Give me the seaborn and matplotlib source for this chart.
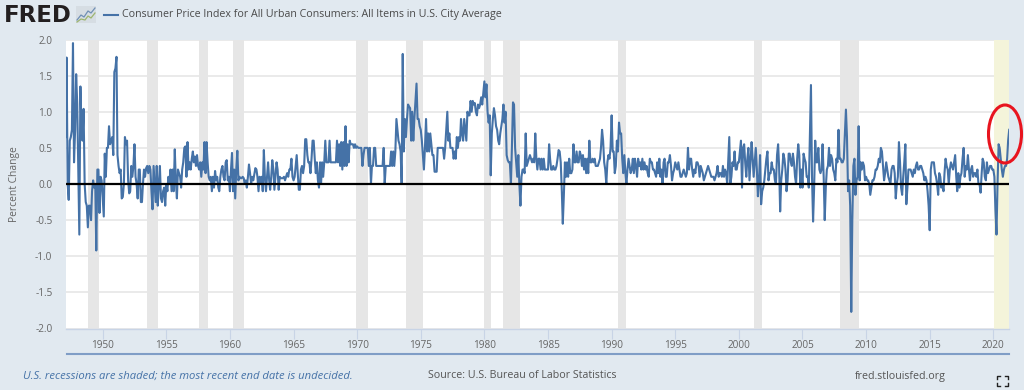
import pandas as pd
import numpy as np
import matplotlib
matplotlib.use("Agg")
import matplotlib.pyplot as plt
import seaborn as sns
from matplotlib.lines import Line2D
from matplotlib.patches import Ellipse, Rectangle

# monthly percent change, one row per year
cpi_1940s = [
    0.65, 1.75, 0.0, -0.22, 0.6, 0.65, 0.75, 1.95, 0.3, 0.75, 1.52,
    1.1, 0.2, -0.7, 1.35, 0.75, 0.6, 1.04, 0.0, -0.25, -0.3, -0.6, -0.3,
    -0.3, -0.5, -0.1, 0.05, -0.05, 0.0, -0.92, 0.2, 0.2, -0.4, 0.1, 0.05,
]
cpi_1950s = [
    -0.2, -0.45, 0.42, 0.1, 0.5, 0.5, 0.8, 0.55, 0.6, 0.65, 0.4, 1.55,
    1.6, 1.76, 0.4, 0.25, 0.15, 0.2, -0.2, -0.18, 0.0, 0.65, 0.55, 0.6,
    0.05, -0.13, -0.1, 0.25, 0.1, 0.25, 0.55, 0.1, 0.0, -0.2, 0.2, 0.2,
    -0.25, -0.25, 0.0, 0.2, 0.1, 0.22, 0.25, 0.15, 0.25, 0.2, -0.1, -0.35,
    0.25, 0.0, -0.25, 0.25, -0.3, 0.0, 0.25, -0.2, -0.25, -0.1, -0.05, -0.3,
    0.0, -0.1, 0.1, 0.0, 0.2, -0.1, 0.2, -0.1, 0.48, 0.05, -0.2, 0.2,
    0.15, 0.1, -0.05, 0.2, 0.3, 0.5, 0.52, 0.1, 0.58, 0.2, 0.3, 0.2,
    0.35, 0.45, 0.3, 0.38, 0.25, 0.4, 0.25, 0.2, 0.3, 0.1, 0.3, 0.2,
    0.58, 0.15, 0.58, 0.3, 0.1, 0.05, 0.1, -0.1, 0.1, -0.05, 0.18, 0.05,
    0.1, -0.05, -0.1, 0.1, 0.2, 0.25, 0.1, 0.05, 0.3, 0.33, 0.05, 0.1,
]
cpi_1960s = [
    -0.1, 0.2, 0.43, -0.1, 0.2, -0.2, 0.2, 0.46, 0.05, 0.1, 0.08, 0.08,
    0.1, 0.08, 0.0, 0.05, -0.05, 0.1, 0.27, 0.15, 0.0, 0.1, 0.05, 0.13,
    0.22, 0.2, 0.1, -0.1, 0.1, 0.0, 0.1, -0.1, 0.47, 0.1, -0.1, 0.1,
    0.3, 0.05, -0.08, 0.1, 0.33, 0.2, -0.08, 0.12, 0.3, 0.2, -0.08, 0.1,
    0.08, 0.08, 0.08, 0.1, 0.05, 0.1, 0.15, 0.1, 0.2, 0.2, 0.35, 0.1,
    0.05, 0.1, 0.25, 0.4, 0.15, -0.08, -0.08, 0.2, 0.25, 0.15, 0.25, 0.62,
    0.62, 0.4, 0.3, 0.3, 0.15, 0.35, 0.6, 0.6, 0.35, 0.15, 0.3, 0.05,
    -0.05, 0.3, 0.0, 0.3, 0.1, 0.3, 0.6, 0.3, 0.3, 0.3, 0.6, 0.3,
    0.3, 0.3, 0.3, 0.3, 0.3, 0.6, 0.3, 0.55, 0.25, 0.58, 0.2, 0.58,
    0.25, 0.8, 0.25, 0.55, 0.3, 0.6, 0.55, 0.55, 0.55, 0.5, 0.55, 0.5,
]
cpi_1970s = [
    0.52, 0.5, 0.5, 0.5, 0.5, 0.25, 0.4, 0.5, 0.5, 0.5, 0.5, 0.25,
    0.5, 0.0, 0.25, 0.25, 0.5, 0.5, 0.25, 0.25, 0.25, 0.25, 0.25, 0.25,
    0.25, 0.5, 0.0, 0.25, 0.25, 0.25, 0.25, 0.25, 0.45, 0.25, 0.45, 0.25,
    0.45, 0.9, 0.75, 0.6, 0.55, 0.45, 0.0, 1.8, 0.45, 0.9, 0.65, 0.9,
    1.1, 1.07, 1.05, 0.6, 1.0, 0.6, 0.9, 1.15, 1.39, 0.9, 0.9, 0.8,
    0.75, 0.6, 0.4, 0.2, 0.5, 0.9, 0.45, 0.7, 0.45, 0.7, 0.55, 0.4,
    0.4, 0.17, 0.17, 0.17, 0.5, 0.5, 0.5, 0.5, 0.5, 0.5, 0.35, 0.5,
    0.75, 1.0, 0.6, 0.7, 0.5, 0.5, 0.5, 0.35, 0.45, 0.35, 0.65, 0.5,
    0.65, 0.6, 0.9, 0.7, 0.6, 0.9, 0.75, 0.6, 1.0, 0.95, 0.95, 1.15,
    1.0, 1.15, 1.1, 1.12, 1.0, 0.95, 1.1, 1.05, 1.1, 1.2, 1.1, 1.25,
]
cpi_1980s = [
    1.42, 1.2, 1.38, 1.0, 0.85, 0.95, 0.12, 0.7, 0.9, 1.05, 0.95, 0.8,
    0.75, 0.6, 0.55, 0.7, 0.8, 0.9, 1.1, 0.85, 1.0, 0.4, 0.33, 0.3,
    0.3, 0.0, 0.5, 1.13, 1.1, 0.5, 0.3, 0.1, 0.4, 0.0, -0.3, 0.1,
    0.2, 0.2, 0.15, 0.7, 0.25, 0.3, 0.35, 0.4, 0.35, 0.3, 0.35, 0.3,
    0.7, 0.35, 0.2, 0.35, 0.35, 0.2, 0.35, 0.2, 0.35, 0.2, 0.2, 0.2,
    0.2, 0.55, 0.35, 0.2, 0.2, 0.25, 0.2, 0.2, 0.25, 0.35, 0.47, 0.45,
    0.3, -0.1, -0.55, -0.15, 0.3, 0.1, 0.3, 0.1, 0.35, 0.15, 0.15, 0.2,
    0.55, 0.3, 0.3, 0.45, 0.3, 0.3, 0.45, 0.4, 0.25, 0.4, 0.2, 0.35,
    0.15, 0.35, 0.15, 0.6, 0.3, 0.3, 0.35, 0.3, 0.35, 0.25, 0.25, 0.25,
    0.3, 0.35, 0.5, 0.75, 0.6, 0.3, 0.2, 0.0, 0.3, 0.4, 0.35, 0.5,
]
cpi_1990s = [
    0.95, 0.45, 0.45, 0.15, 0.25, 0.6, 0.45, 0.85, 0.7, 0.7, 0.35, 0.15,
    0.4, 0.15, 0.0, 0.2, 0.35, 0.25, 0.15, 0.2, 0.35, 0.15, 0.35, 0.25,
    0.1, 0.35, 0.25, 0.3, 0.2, 0.35, 0.2, 0.3, 0.2, 0.25, 0.15, 0.1,
    0.35, 0.3, 0.3, 0.2, 0.2, 0.15, 0.1, 0.3, 0.15, 0.35, 0.1, 0.2,
    0.0, 0.3, 0.35, 0.1, 0.1, 0.3, 0.3, 0.4, 0.25, 0.05, 0.15, 0.2,
    0.3, 0.25, 0.2, 0.3, 0.2, 0.1, 0.1, 0.15, 0.2, 0.15, 0.1, 0.15,
    0.5, 0.2, 0.35, 0.35, 0.2, 0.1, 0.2, 0.15, 0.3, 0.3, 0.25, 0.1,
    0.25, 0.2, 0.15, 0.05, 0.1, 0.15, 0.2, 0.25, 0.2, 0.15, 0.1, 0.1,
    0.1, 0.05, 0.1, 0.15, 0.25, 0.1, 0.15, 0.15, 0.1, 0.25, 0.1, 0.2,
    0.15, 0.0, 0.3, 0.65, 0.0, 0.1, 0.3, 0.25, 0.45, 0.2, 0.2, 0.3,
]
cpi_2000s = [
    0.3, 0.45, 0.6, -0.05, 0.5, 0.55, 0.3, 0.1, 0.35, 0.5, 0.05, 0.3,
    0.58, 0.35, 0.1, 0.3, 0.5, 0.2, -0.17, 0.05, 0.4, -0.28, -0.1, -0.05,
    0.05, 0.2, 0.35, 0.45, 0.05, 0.15, 0.15, 0.3, 0.2, 0.2, 0.05, 0.0,
    0.4, 0.55, 0.25, -0.38, 0.05, 0.2, 0.42, 0.35, 0.2, -0.1, 0.05, 0.42,
    0.42, 0.3, 0.25, 0.42, 0.3, 0.1, 0.0, 0.35, 0.55, 0.4, -0.05, 0.2,
    -0.05, 0.42, 0.35, 0.3, 0.1, 0.1, -0.05, 0.65, 1.37, 0.1, -0.52, -0.05,
    0.6, 0.3, 0.3, 0.5, 0.2, 0.15, 0.2, 0.55, 0.1, -0.5, -0.05, 0.2,
    0.25, 0.5, 0.25, 0.4, 0.35, 0.2, 0.15, 0.05, 0.35, 0.3, 0.75, 0.35,
    0.35, 0.3, 0.3, 0.35, 0.7, 1.03, 0.65, -0.1, 0.05, -0.3, -1.77, -0.5,
    0.25, 0.35, -0.15, 0.05, 0.1, 0.8, 0.05, 0.3, 0.2, 0.3, 0.25, 0.05,
]
cpi_2010s = [
    0.1, 0.05, 0.05, 0.0, -0.15, -0.05, 0.05, 0.05, 0.1, 0.2, 0.2, 0.25,
    0.35, 0.3, 0.5, 0.45, 0.25, 0.05, 0.15, 0.3, 0.2, 0.1, 0.05, 0.0,
    0.2, 0.25, 0.25, 0.15, -0.2, 0.0, 0.1, 0.58, 0.3, -0.05, -0.15, 0.1,
    0.3, 0.55, -0.28, -0.05, 0.2, 0.2, 0.2, 0.15, 0.1, 0.2, 0.15, 0.25,
    0.3, 0.2, 0.2, 0.25, 0.25, 0.2, 0.15, 0.05, 0.1, 0.05, -0.1, -0.3,
    -0.64, 0.2, 0.3, 0.3, 0.3, 0.15, 0.1, 0.0, -0.15, 0.15, 0.1, -0.05,
    0.0, -0.1, 0.15, 0.35, 0.25, 0.2, 0.0, 0.2, 0.3, 0.25, 0.2, 0.3,
    0.4, 0.1, -0.1, 0.15, -0.05, 0.1, 0.15, 0.35, 0.5, 0.1, 0.25, 0.2,
    0.4, 0.2, 0.05, 0.2, 0.25, 0.1, 0.15, 0.15, 0.1, 0.2, 0.0, 0.0,
    -0.12, 0.15, 0.35, 0.3, 0.1, 0.05, 0.3, 0.15, 0.2, 0.25, 0.25, 0.2,
]
cpi_2020s = [
    0.2, 0.1, -0.35, -0.7, 0.0, 0.55, 0.5, 0.35, 0.2, 0.1, 0.2, 0.25,
    0.25, 0.35, 0.6, 0.75,
]

recession_start = ["1948-11", "1953-07", "1957-08", "1960-04", "1969-12", "1973-11",
                   "1980-01", "1981-07", "1990-07", "2001-03", "2007-12"]
recession_end = ["1949-10", "1954-05", "1958-04", "1961-02", "1970-11", "1975-03",
                 "1980-07", "1982-11", "1991-03", "2001-11", "2009-06"]
last_start = "2020-02"

years = list(range(1950, 2021, 5))
y_ticks = [-2.0, -1.5, -1.0, -0.5, 0.0, 0.5, 1.0, 1.5, 2.0]

valores = cpi_1940s + cpi_1950s + cpi_1960s + cpi_1970s + cpi_1980s + cpi_1990s + cpi_2000s + cpi_2010s + cpi_2020s
assert len(valores) == 891
data = pd.DataFrame({
    "fecha": pd.date_range("1947-02-01", periods=len(valores), freq="MS"),
    "cambio": valores
})

azul = "#4572A7"
gris = "#666666"
fondo = "#E1E9F0"
plt.rcParams["font.family"] = ["Open Sans", "DejaVu Sans"]

fig = plt.figure(figsize=(10.24, 3.9), dpi=100, facecolor=fondo)
W, H = 1024, 390


def box(x0, y0, x1, y1):
    return [x0 / W, 1 - y1 / H, (x1 - x0) / W, (y1 - y0) / H]


def fx(x):
    return x / W


def fy(y):
    return 1 - y / H


ax = fig.add_axes(box(65.6, 39.5, 1009.2, 328.5))
ax.set_facecolor("white")

# Bandas de recesion
for a, b in zip(recession_start, recession_end):
    ax.axvspan(pd.Timestamp(a), pd.Timestamp(b), color="#E6E6E6", lw=0, zorder=1)
ax.axvspan(pd.Timestamp(last_start), data["fecha"].iloc[-1], color="#F4F4DA", lw=0, zorder=1)

ax.yaxis.grid(True, color="#E8E8E8", lw=1.3, zorder=0)
ax.set_axisbelow(True)

sns.lineplot(data=data, x="fecha", y="cambio", ax=ax, color=azul, lw=1.5, zorder=3, errorbar=None)
ax.axhline(0, color="black", lw=1.6, zorder=4)

ax.set_xlim(data["fecha"].iloc[0], data["fecha"].iloc[-1])
ax.set_ylim(-2, 2)
ax.set_xticks([pd.Timestamp(f"{y}-01-01") for y in years])
ax.set_xticklabels([str(y) for y in years])
ax.set_yticks(y_ticks)
ax.set_yticklabels([f"{v:.1f}" for v in y_ticks])
ax.tick_params(axis="x", length=7, width=0.8, color="#C8D4E6", labelsize=7.2, labelcolor=gris,
               direction="out", pad=1)
ax.tick_params(axis="y", length=0, labelsize=7.2, labelcolor=gris, pad=9.5)
ax.set_xlabel("")
ax.set_ylabel("")
for lado in ["top", "right", "left"]:
    ax.spines[lado].set_visible(False)
ax.spines["bottom"].set_color("#C8D4E6")
ax.spines["bottom"].set_linewidth(1)

fig.text(fx(15), fy(184), "Percent Change", rotation=90, ha="center", va="center", fontsize=7.4, color=gris)

# Leyenda
fig.add_artist(Line2D([fx(104), fx(118)], [fy(15), fy(15)], color=azul, lw=1.5))
fig.text(fx(122), fy(15), "Consumer Price Index for All Urban Consumers: All Items in U.S. City Average",
         ha="left", va="center", fontsize=7.65, color="#4A4A4A")

# Logo
fig.text(fx(3.5), fy(15.5), "FRED", ha="left", va="center", fontsize=16.5, fontweight="bold",
         family="DejaVu Sans", color="#231F20")
fig.add_artist(Rectangle((fx(76), fy(23)), 20 / W, 17 / H, transform=fig.transFigure,
                         facecolor="#D6DDE3", edgecolor="none"))
fig.add_artist(Line2D([fx(x) for x in [77, 81, 84, 88, 91, 95]], [fy(y) for y in [20, 15, 17, 11, 13, 8]],
                      color="#6F8FB5", lw=0.9))
fig.add_artist(Line2D([fx(x) for x in [77, 81, 85, 88, 91, 95]], [fy(y) for y in [22, 19, 20, 16, 18, 13]],
                      color="#9DB56F", lw=0.9))

# Barra inferior
fig.add_artist(Line2D([fx(67), fx(1009)], [fy(353.5), fy(353.5)], color="#7F9DC6", lw=1.5))

fig.text(fx(23), fy(376), "U.S. recessions are shaded; the most recent end date is undecided.",
         ha="left", va="center", fontsize=8.15, style="italic", color="#4572A7")
fig.text(fx(428), fy(376), "Source: U.S. Bureau of Labor Statistics", ha="left", va="center",
         fontsize=7.65, color="#555555")
fig.text(fx(855), fy(376), "fred.stlouisfed.org", ha="left", va="center", fontsize=7.65, color="#555555")

# Icono de pantalla completa
for cx, cy, dx, dy in [(997, 376, 1, 1), (1008, 376, -1, 1), (997, 386, 1, -1), (1008, 386, -1, -1)]:
    fig.add_artist(Line2D([fx(cx + dx * 3), fx(cx), fx(cx)], [fy(cy), fy(cy), fy(cy + dy * 3)],
                          color="#222222", lw=1.0))

# Circulo rojo
fig.add_artist(Ellipse((fx(1005), fy(134)), 33 / W, 58 / H, transform=fig.transFigure,
                       facecolor="none", edgecolor="#E8141E", lw=2.2, zorder=10))

plt.savefig("out.png", dpi=100, facecolor=fig.get_facecolor())
